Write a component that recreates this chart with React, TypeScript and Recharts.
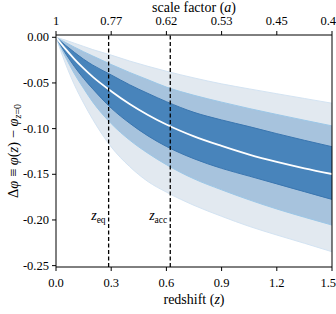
import React from 'react';
import { ComposedChart, Area, Line, XAxis, YAxis, ReferenceLine, Label } from 'recharts';

const FONT = "'Liberation Serif', 'DejaVu Serif', serif";

// redshift grid and the quantile curves
const redshift = [0, 0.05, 0.1, 0.15, 0.2, 0.3, 0.4, 0.5, 0.6, 0.75, 0.9, 1.05, 1.2, 1.35, 1.5];
const median = [0, -0.0125, -0.0238, -0.034, -0.0433, -0.059, -0.073, -0.085, -0.0955, -0.1085, -0.119, -0.1285, -0.1365, -0.1435, -0.1497];
const innerTop = [0, -0.0085, -0.0165, -0.024, -0.0305, -0.0412, -0.052, -0.0615, -0.0705, -0.0822, -0.0905, -0.0978, -0.1055, -0.1128, -0.1198];
const innerBottom = [0, -0.017, -0.032, -0.045, -0.0565, -0.0775, -0.094, -0.108, -0.1195, -0.133, -0.1435, -0.152, -0.1605, -0.169, -0.1775];
const midTop = [0, -0.0055, -0.0108, -0.0158, -0.0205, -0.0298, -0.0385, -0.0465, -0.0545, -0.0635, -0.071, -0.078, -0.0845, -0.0908, -0.097];
const midBottom = [0, -0.021, -0.04, -0.056, -0.071, -0.0945, -0.1125, -0.127, -0.1395, -0.155, -0.167, -0.178, -0.188, -0.197, -0.2056];
const outerTop = [0, -0.003, -0.0065, -0.01, -0.0135, -0.0195, -0.026, -0.0318, -0.0372, -0.0445, -0.051, -0.0565, -0.0618, -0.067, -0.0722];
const outerBottom = [0, -0.028, -0.052, -0.072, -0.09, -0.12, -0.1415, -0.158, -0.1695, -0.184, -0.196, -0.207, -0.2165, -0.2255, -0.2348];

const zTicks = [0, 0.3, 0.6, 0.9, 1.2, 1.5];
const scaleFactorLabels = ['1', '0.77', '0.62', '0.53', '0.45', '0.4'];
const phiTicks = [0, -0.05, -0.1, -0.15, -0.2, -0.25];
const zEq = 0.286;
const zAcc = 0.621;

const data = redshift.map((z, i) => ({
  z,
  median: median[i],
  outerBand: [outerBottom[i], outerTop[i]],
  midBand: [midBottom[i], midTop[i]],
  innerBand: [innerBottom[i], innerTop[i]],
  innerTop: innerTop[i],
  innerBottom: innerBottom[i],
  midTop: midTop[i],
  midBottom: midBottom[i],
  outerTop: outerTop[i],
  outerBottom: outerBottom[i],
}));

const textStyle = { fontFamily: FONT };

// keeps the outermost tick labels inside the 336px page
const AxisTick = ({ x, y, payload, index, labels, position }: any) => {
  const text = labels ? labels[index] : payload.value.toFixed(1);
  const half = text.length * 3.2;
  let anchor: 'middle' | 'end' = 'middle';
  let tx = x;
  if (x + half > 336) {
    anchor = 'end';
    tx = 336;
  }
  const ty = position === 'top' ? y - 4 : y + 14;
  return (
    <text x={tx} y={ty} textAnchor={anchor} fontSize={12.5} fill="#000" style={textStyle}>
      {text}
    </text>
  );
};

const YTick = ({ x, y, payload }: any) => (
  <text x={x - 1} y={y + 4} textAnchor="end" fontSize={12.5} fill="#000" style={textStyle}>
    {payload.value.toFixed(2)}
  </text>
);

const BottomTitle = ({ viewBox }: any) => (
  <text x={viewBox.x + viewBox.width / 2} y={viewBox.y + 37} textAnchor="middle" fontSize={14} fill="#000" style={textStyle}>
    redshift (<tspan fontStyle="italic">z</tspan>)
  </text>
);

const TopTitle = ({ viewBox }: any) => (
  <text x={viewBox.x + viewBox.width / 2} y={viewBox.y + 12} textAnchor="middle" fontSize={14} fill="#000" style={textStyle}>
    scale factor (<tspan fontStyle="italic">a</tspan>)
  </text>
);

const YTitle = ({ viewBox }: any) => {
  const x = viewBox.x + 18;
  const y = viewBox.y + viewBox.height / 2;
  return (
    <text x={x} y={y} transform={`rotate(-90, ${x}, ${y})`} textAnchor="middle" fontSize={14.5} fill="#000" style={textStyle}>
      Δ<tspan fontStyle="italic">φ</tspan>  ≡  <tspan fontStyle="italic">φ</tspan>(<tspan fontStyle="italic">z</tspan>)  −  <tspan fontStyle="italic">φ</tspan>
      <tspan fontSize={10} dy={3} fontStyle="italic">z</tspan>
      <tspan fontSize={10}>=0</tspan>
    </text>
  );
};

const EpochLabel = ({ viewBox, name }: any) => (
  <text x={viewBox.x - 3} y={viewBox.y + viewBox.height - 47} textAnchor="end" fontSize={14} fill="#000" style={textStyle}>
    <tspan fontStyle="italic">z</tspan>
    <tspan fontSize={9.5} dy={3}>{name}</tspan>
  </text>
);

export default function App() {
  return (
    <div style={{ position: 'absolute', left: 0, top: 0, width: 336, height: 314, background: '#fff', fontFamily: FONT }}>
      <ComposedChart width={336} height={314} data={data} margin={{ top: 0, right: 4, bottom: 0, left: 0 }}>
        <XAxis
          dataKey="z"
          type="number"
          domain={[0, 1.5]}
          ticks={zTicks}
          interval={0}
          allowDataOverflow
          height={47}
          tickSize={4}
          tick={<AxisTick position="bottom" />}
          stroke="#000"
          tickLine={{ stroke: '#000' }}
          axisLine={{ stroke: '#000' }}
        >
          <Label content={<BottomTitle />} />
        </XAxis>
        <XAxis
          xAxisId="top"
          orientation="top"
          dataKey="z"
          type="number"
          domain={[0, 1.5]}
          ticks={zTicks}
          interval={0}
          height={35}
          tickSize={4}
          tick={<AxisTick position="top" labels={scaleFactorLabels} />}
          stroke="#000"
          tickLine={{ stroke: '#000' }}
          axisLine={{ stroke: '#000' }}
        >
          <Label content={<TopTitle />} />
        </XAxis>
        <YAxis
          type="number"
          domain={[-0.2515, 0.0025]}
          ticks={phiTicks}
          interval={0}
          allowDataOverflow
          width={56}
          tickSize={4}
          tick={<YTick />}
          stroke="#000"
          tickLine={{ stroke: '#000' }}
          axisLine={{ stroke: '#000' }}
        >
          <Label content={<YTitle />} />
        </YAxis>

        <Area type="monotone" dataKey="outerBand" fill="#e2e9f0" fillOpacity={1} stroke="none" isAnimationActive={false} />
        <Area type="monotone" dataKey="midBand" fill="#a7c3dd" fillOpacity={1} stroke="none" isAnimationActive={false} />
        <Area type="monotone" dataKey="innerBand" fill="#4884bb" fillOpacity={1} stroke="none" isAnimationActive={false} />

        <Line type="monotone" dataKey="outerTop" stroke="#d3e3f2" strokeWidth={1} dot={false} isAnimationActive={false} />
        <Line type="monotone" dataKey="outerBottom" stroke="#d3e3f2" strokeWidth={1} dot={false} isAnimationActive={false} />
        <Line type="monotone" dataKey="midTop" stroke="#9cc7e7" strokeWidth={1} dot={false} isAnimationActive={false} />
        <Line type="monotone" dataKey="midBottom" stroke="#9cc7e7" strokeWidth={1} dot={false} isAnimationActive={false} />
        <Line type="monotone" dataKey="innerTop" stroke="#3a76b0" strokeWidth={1} dot={false} isAnimationActive={false} />
        <Line type="monotone" dataKey="innerBottom" stroke="#3a76b0" strokeWidth={1} dot={false} isAnimationActive={false} />
        <Line type="monotone" dataKey="median" stroke="#ffffff" strokeWidth={1.8} dot={false} isAnimationActive={false} />

        <ReferenceLine x={zEq} stroke="#000" strokeWidth={1.3} strokeDasharray="4 2.5">
          <Label content={<EpochLabel name="eq" />} />
        </ReferenceLine>
        <ReferenceLine x={zAcc} stroke="#000" strokeWidth={1.3} strokeDasharray="4 2.5">
          <Label content={<EpochLabel name="acc" />} />
        </ReferenceLine>
        <ReferenceLine x={1.5} stroke="#000" strokeWidth={1} />
      </ComposedChart>
    </div>
  );
}
